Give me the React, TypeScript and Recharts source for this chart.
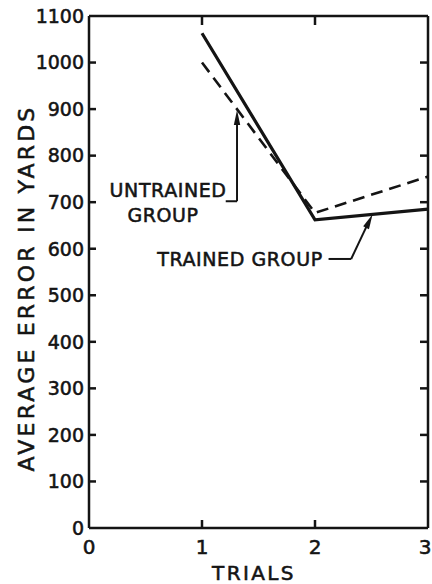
import React from 'react';
import { LineChart, Line, XAxis, YAxis, ReferenceLine, ReferenceDot } from 'recharts';

// ---- data ----
const trials = [1, 2, 3];
const trainedGroup = [1063, 662, 685];
const untrainedGroup = [1000, 677, 755];
const xTicks = [0, 1, 2, 3];
const yTicks = [0, 100, 200, 300, 400, 500, 600, 700, 800, 900, 1000, 1100];
const yTitle = 'AVERAGE ERROR IN YARDS';
const xTitle = 'TRIALS';
const untrainedLabel = ['UNTRAINED', 'GROUP'];
const trainedLabel = 'TRAINED GROUP';

const data = trials.map((t, i) => ({ trial: t, trained: trainedGroup[i], untrained: untrainedGroup[i] }));

const FONT = '"DejaVu Sans", sans-serif';
const INK = '#141414';
const AX = 2.5;
const TXT = { fontFamily: FONT, fill: INK, stroke: INK, strokeWidth: 0.55 };

const LeftTick = (p: any) => {
  const { x, y, payload } = p;
  const corner = payload.value === 0 || payload.value === 1100;
  return (
    <g>
      {!corner && <line x1={x} x2={x + 7} y1={y} y2={y} stroke={INK} strokeWidth={AX} />}
      <text x={x - 5} y={y} dy="0.36em" textAnchor="end" fontSize={19} {...TXT}>
        {payload.value}
      </text>
    </g>
  );
};

const BottomTick = (p: any) => {
  const { x, y, payload } = p;
  const corner = payload.value === 0 || payload.value === 3;
  const last = payload.value === 3;
  return (
    <g>
      {!corner && <line x1={x} x2={x} y1={y} y2={y - 8} stroke={INK} strokeWidth={AX} />}
      <text x={last ? x - 3 : x} y={y + 26} textAnchor="middle" fontSize={20} {...TXT}>
        {payload.value}
      </text>
    </g>
  );
};

const TopTick = (p: any) => {
  const { x, payload } = p;
  if (payload.value === 0 || payload.value === 3) return <g />;
  const y0 = p.y + 1;
  return <line x1={x} x2={x} y1={y0} y2={y0 + 8} stroke={INK} strokeWidth={AX} />;
};

const RightTick = (p: any) => {
  const { y, payload } = p;
  if (payload.value === 0 || payload.value === 1100) return <g />;
  const x0 = p.x - 1;
  return <line x1={x0 - 7} x2={x0} y1={y} y2={y} stroke={INK} strokeWidth={AX} />;
};

const YTitle = (p: any) => {
  const vb = p.viewBox;
  const cx = vb.x + 26;
  const cy = vb.y + vb.height / 2 + 16;
  return (
    <text
      x={cx}
      y={cy}
      transform={`rotate(-90 ${cx} ${cy})`}
      textAnchor="middle"
      dominantBaseline="central"
      fontSize={22}
      letterSpacing={3.2}
      {...TXT}
    >
      {yTitle}
    </text>
  );
};

const XTitle = (p: any) => {
  const vb = p.viewBox;
  return (
    <text x={254} y={vb.y + 52} textAnchor="middle" fontSize={20} letterSpacing={2.4} {...TXT}>
      {xTitle}
    </text>
  );
};

const textShape = (value: string) => (p: any) => (
  <text
    x={p.cx}
    y={p.cy}
    textAnchor="middle"
    dominantBaseline="central"
    fontSize={19}
    letterSpacing={0.6}
    {...TXT}
  >
    {value}
  </text>
);

const arrowShape = (angle: number) => (p: any) => (
  <polygon
    points="0,0 -15,-3.2 -15,3.2"
    transform={`translate(${p.cx} ${p.cy}) rotate(${angle})`}
    fill={INK}
  />
);

export default function App() {
  return (
    <div style={{ position: 'absolute', left: 0, top: 0, background: '#fff' }}>
      <LineChart width={432} height={584} data={data} margin={{ top: 15, right: 3, bottom: 0, left: 0 }}>
        <XAxis
          dataKey="trial"
          type="number"
          domain={[0, 3]}
          ticks={xTicks}
          interval={0}
          height={56}
          tickSize={0}
          tickMargin={0}
          tick={BottomTick}
          axisLine={{ stroke: INK, strokeWidth: AX }}
          label={<XTitle />}
        />
        <XAxis
          xAxisId="top"
          dataKey="trial"
          orientation="top"
          type="number"
          domain={[0, 3]}
          ticks={xTicks}
          interval={0}
          height={1}
          tickSize={0}
          tickMargin={0}
          tick={TopTick}
          axisLine={{ stroke: INK, strokeWidth: AX }}
        />
        <YAxis
          type="number"
          domain={[0, 1100]}
          ticks={yTicks}
          interval={0}
          width={89}
          tickSize={0}
          tickMargin={0}
          tick={LeftTick}
          axisLine={{ stroke: INK, strokeWidth: AX }}
          label={<YTitle />}
        />
        <YAxis
          yAxisId="right"
          orientation="right"
          type="number"
          domain={[0, 1100]}
          ticks={yTicks}
          interval={0}
          width={1}
          tickSize={0}
          tickMargin={0}
          tick={RightTick}
          axisLine={{ stroke: INK, strokeWidth: AX }}
        />
        {/* invisible series binding the frame axes (top / right) */}
        <Line
          xAxisId="top"
          yAxisId="right"
          dataKey="trained"
          stroke="none"
          strokeWidth={0}
          dot={false}
          activeDot={false}
          legendType="none"
          isAnimationActive={false}
        />
        <Line
          dataKey="untrained"
          stroke={INK}
          strokeWidth={2.6}
          strokeDasharray="12 7"
          dot={false}
          isAnimationActive={false}
        />
        <Line dataKey="trained" stroke={INK} strokeWidth={3.2} dot={false} isAnimationActive={false} />

        {/* untrained annotation */}
        <ReferenceLine segment={[{ x: 1.21, y: 702 }, { x: 1.31, y: 702 }]} stroke={INK} strokeWidth={2} />
        <ReferenceLine segment={[{ x: 1.31, y: 702 }, { x: 1.31, y: 875 }]} stroke={INK} strokeWidth={2} />
        <ReferenceDot x={1.31} y={898} r={1} shape={arrowShape(-90)} />
        <ReferenceDot x={0.7} y={727} r={1} shape={textShape(untrainedLabel[0])} />
        <ReferenceDot x={0.655} y={672} r={1} shape={textShape(untrainedLabel[1])} />

        {/* trained annotation */}
        <ReferenceLine segment={[{ x: 2.12, y: 578 }, { x: 2.32, y: 578 }]} stroke={INK} strokeWidth={2} />
        <ReferenceLine segment={[{ x: 2.32, y: 578 }, { x: 2.47, y: 655 }]} stroke={INK} strokeWidth={2} />
        <ReferenceDot x={2.51} y={674} r={1} shape={arrowShape(-64)} />
        <ReferenceDot x={1.336} y={577} r={1} shape={textShape(trainedLabel)} />
      </LineChart>
    </div>
  );
}
